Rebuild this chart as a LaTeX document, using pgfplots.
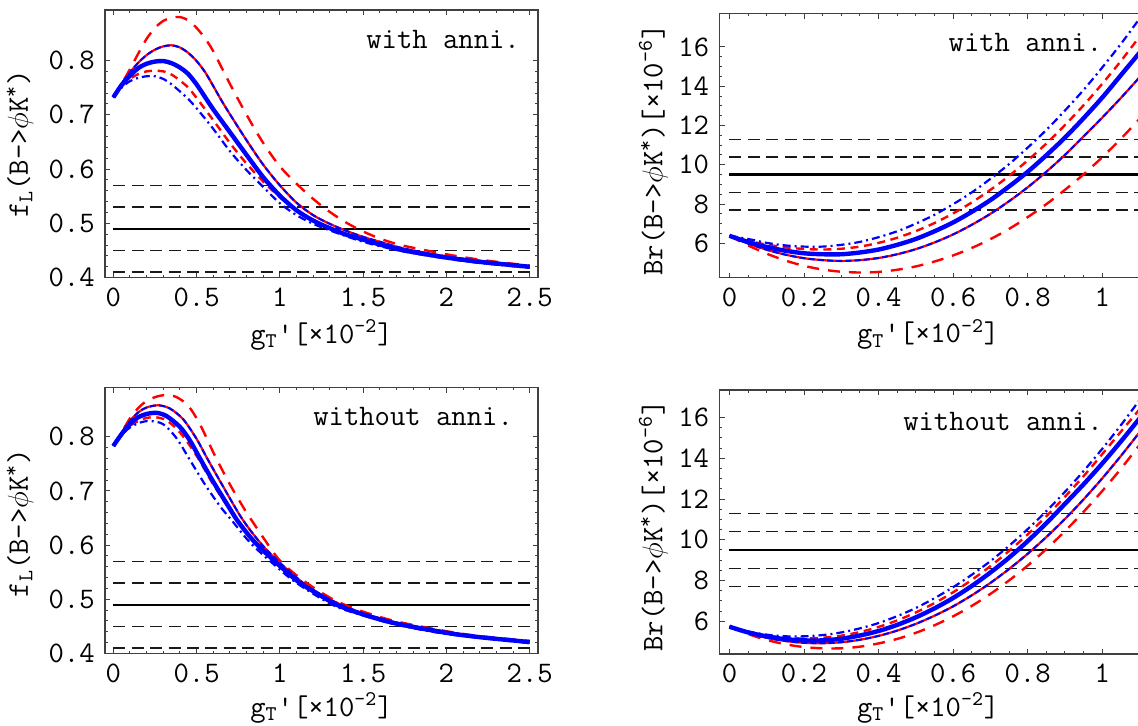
\documentclass[border=0pt]{standalone}
\usepackage{fontspec}
\usepackage{pgfplots}
\usepackage{pgfplotstable}
\pgfplotsset{compat=1.18}

\newcommand\pfont{\fontsize{14.9}{17}\selectfont\ttfamily}

% shared frame style, Mathematica-like
\pgfplotsset{
  panel/.style={
    scale only axis, anchor=north west, no markers,
    axis line style={black!75, line width=0.6pt},
    tick style={black!75, line width=0.5pt},
    major tick length=2.6pt, minor tick length=1.4pt,
    tick align=inside, tick pos=both,
    /pgf/number format/assume math mode=true,
    /pgf/number format/fixed,
    tick label style={font=\pfont},
    label style={font=\pfont},
    xlabel style={at={(axis description cs:0.5,-0.215)}, anchor=center},
  },
  hline/.style={black!90, line width=0.7pt, dash pattern=on 6pt off 3.2pt},
  hmain/.style={black, line width=1.1pt},
  cmain/.style={blue, line width=2.2pt, smooth},
  rsol/.style={red, line width=1.1pt, smooth},
  bdash/.style={blue, line width=1pt, dash pattern=on 3pt off 1.6pt, smooth},
  rlong/.style={red, line width=1.2pt, dash pattern=on 6pt off 4.5pt, smooth},
  rshort/.style={red, line width=1.2pt, dash pattern=on 4pt off 2.8pt, smooth},
  bdd/.style={blue, line width=1.1pt, dash pattern=on 4pt off 2pt on 1pt off 2pt, smooth},
}

\newcommand\xlab{g\textsubscript{T}\textquotesingle[×10\textsuperscript{-2}]}
\newcommand\flab{f\textsubscript{L}(B->$\phi$K\textsuperscript{*})}
\newcommand\brlab{Br(B->$\phi$K\textsuperscript{*})[×10\textsuperscript{-6}]}

% red solid curves (also carry the blue dashed curve on top)
\pgfplotstableread{
x y
0 0.732
0.05 0.757
0.1 0.778
0.15 0.796
0.2 0.810
0.25 0.820
0.3 0.826
0.35 0.828
0.4 0.824
0.45 0.814
0.5 0.799
0.55 0.779
0.6 0.753
0.65 0.726
0.7 0.701
0.8 0.653
0.9 0.608
1.0 0.570
1.1 0.538
1.2 0.515
1.3 0.499
1.4 0.486
1.5 0.475
1.6 0.466
1.7 0.457
1.8 0.450
2.0 0.439
2.2 0.431
2.5 0.421
}\rsolA

\pgfplotstableread{
x y
0 0.783
0.05 0.807
0.1 0.829
0.15 0.845
0.2 0.854
0.27 0.858
0.34 0.852
0.42 0.832
0.5 0.796
0.56 0.762
0.65 0.713
0.77 0.650
0.88 0.605
0.99 0.570
1.14 0.530
1.25 0.508
1.36 0.491
1.5 0.474
1.7 0.457
2.0 0.440
2.2 0.431
2.5 0.422
}\rsolC

% Br panels: x, thick blue, red solid, red long dashed, red short dashed, blue dash-dot
\pgfplotstableread{
x thick rsol rlong rshort bdd
0 6.38 6.38 6.38 6.38 6.38
0.05 6.06 5.99 5.89 6.13 6.22
0.1 5.81 5.67 5.47 5.93 6.02
0.15 5.62 5.42 5.12 5.79 5.89
0.2 5.49 5.24 4.85 5.71 5.83
0.25 5.44 5.14 4.66 5.68 5.83
0.3 5.44 5.10 4.55 5.72 5.92
0.35 5.53 5.14 4.51 5.83 6.07
0.4 5.68 5.25 4.54 6.02 6.31
0.45 5.92 5.44 4.65 6.28 6.61
0.5 6.22 5.70 4.82 6.62 7.00
0.55 6.61 6.04 5.07 7.03 7.45
0.6 7.06 6.45 5.38 7.52 7.99
0.65 7.60 6.94 5.76 8.08 8.59
0.7 8.20 7.50 6.21 8.72 9.28
0.75 8.89 8.14 6.73 9.43 10.03
0.8 9.64 8.85 7.33 10.22 10.87
0.85 10.48 9.64 7.99 11.08 11.77
0.9 11.38 10.50 8.72 12.02 12.76
0.95 12.37 11.44 9.51 13.03 13.81
1.0 13.42 12.40 10.38 14.12 14.95
1.05 14.56 13.40 11.32 15.28 16.15
1.1 15.70 14.45 12.33 16.52 17.44
1.12 16.17 14.88 12.74 17.02 17.98
}\brA

\pgfplotstableread{
x thick rsol rlong rshort bdd
0 5.73 5.73 5.73 5.73 5.73
0.05 5.45 5.43 5.37 5.48 5.50
0.1 5.25 5.19 5.08 5.30 5.34
0.15 5.12 5.03 4.87 5.19 5.26
0.2 5.06 4.94 4.73 5.15 5.26
0.25 5.06 4.92 4.67 5.19 5.32
0.3 5.14 4.97 4.67 5.29 5.45
0.35 5.30 5.09 4.75 5.47 5.65
0.4 5.52 5.28 4.91 5.72 5.91
0.45 5.82 5.54 5.13 6.04 6.25
0.5 6.19 5.87 5.43 6.43 6.65
0.55 6.63 6.27 5.80 6.89 7.13
0.6 7.14 6.73 6.24 7.42 7.67
0.65 7.73 7.27 6.75 8.03 8.28
0.7 8.39 7.88 7.34 8.70 8.95
0.75 9.12 8.56 8.00 9.45 9.70
0.8 9.93 9.31 8.73 10.26 10.52
0.85 10.81 10.13 9.54 11.15 11.40
0.9 11.76 11.02 10.42 12.11 12.35
0.95 12.72 11.98 11.37 13.12 13.37
1.0 13.74 13.01 12.39 14.20 14.46
1.05 14.82 14.11 13.48 15.30 15.62
1.1 15.95 15.27 14.65 16.40 16.85
1.12 16.42 15.76 15.13 16.88 17.36
}\brC

\begin{document}
\pfont
\begin{tikzpicture}
\useasboundingbox (0,0) rectangle (569pt,-362.5pt);

% ---------- top left: f_L with annihilation ----------
\begin{axis}[panel, at={(52.5pt,-5pt)}, width=216.5pt, height=133.8pt,
  xmin=-0.05, xmax=2.55, ymin=0.4, ymax=0.893,
  xtick={0,0.5,1,1.5,2,2.5}, ytick={0.4,0.5,0.6,0.7,0.8},
  minor x tick num=4, minor y tick num=4,
  xlabel={\xlab}, ylabel={\flab},
  ylabel style={at={(axis description cs:-0.196,0.5)}, anchor=center}]
\addplot[hline] coordinates {(0,0.41) (2.5,0.41)};
\addplot[hline] coordinates {(0,0.45) (2.5,0.45)};
\addplot[hmain] coordinates {(0,0.49) (2.5,0.49)};
\addplot[hline] coordinates {(0,0.53) (2.5,0.53)};
\addplot[hline] coordinates {(0,0.57) (2.5,0.57)};
\addplot[rlong] coordinates {(0,0.732) (0.05,0.757) (0.1,0.784) (0.15,0.813) (0.2,0.840) (0.25,0.860) (0.3,0.873) (0.35,0.879) (0.4,0.880) (0.45,0.874) (0.5,0.860) (0.55,0.841) (0.6,0.817) (0.7,0.757) (0.8,0.700) (0.9,0.648) (1.0,0.605) (1.1,0.573) (1.2,0.545) (1.3,0.521) (1.4,0.501) (1.5,0.485) (1.6,0.472) (1.7,0.462) (1.8,0.455) (2.0,0.443) (2.2,0.433) (2.5,0.422)};
\addplot[rshort] coordinates {(0,0.732) (0.05,0.752) (0.1,0.766) (0.15,0.775) (0.2,0.780) (0.25,0.781) (0.3,0.780) (0.35,0.774) (0.4,0.763) (0.45,0.750) (0.5,0.731) (0.6,0.690) (0.7,0.648) (0.8,0.610) (0.9,0.577) (1.0,0.548) (1.1,0.524) (1.2,0.506) (1.3,0.491) (1.4,0.479) (1.5,0.469) (1.6,0.460) (1.7,0.453) (1.8,0.446) (2.0,0.436) (2.2,0.428) (2.5,0.419)};
\addplot[rsol] table[x=x, y=y] {\rsolA};
\addplot[bdd] coordinates {(0,0.732) (0.05,0.750) (0.1,0.762) (0.15,0.768) (0.2,0.771) (0.25,0.771) (0.3,0.766) (0.35,0.756) (0.4,0.743) (0.45,0.729) (0.5,0.712) (0.6,0.674) (0.7,0.633) (0.8,0.598) (0.9,0.567) (1.0,0.537) (1.1,0.515) (1.2,0.499) (1.3,0.487) (1.4,0.476) (1.5,0.466) (1.6,0.458) (1.7,0.451) (1.8,0.445) (2.0,0.435) (2.2,0.427) (2.5,0.418)};
\addplot[cmain] coordinates {(0,0.732) (0.05,0.755) (0.1,0.772) (0.15,0.786) (0.2,0.794) (0.25,0.798) (0.3,0.799) (0.35,0.795) (0.4,0.787) (0.45,0.775) (0.5,0.756) (0.55,0.733) (0.6,0.710) (0.7,0.668) (0.8,0.626) (0.9,0.585) (1.0,0.551) (1.1,0.524) (1.2,0.505) (1.3,0.491) (1.4,0.479) (1.5,0.470) (1.6,0.461) (1.7,0.453) (1.8,0.447) (2.0,0.437) (2.2,0.429) (2.5,0.420)};
\addplot[bdash] table[x=x, y=y] {\rsolA};
\node at (axis cs:1.98,0.838) {with anni.};
\end{axis}

% ---------- top right: Br with annihilation ----------
\begin{axis}[panel, at={(359.7pt,-6.8pt)}, width=213pt, height=132.1pt,
  xmin=-0.027, xmax=1.116, ymin=4.24, ymax=17.7,
  xtick={0,0.2,0.4,0.6,0.8,1}, ytick={6,8,10,12,14,16},
  minor x tick num=3, minor y tick num=3,
  xlabel={\xlab}, ylabel={\brlab},
  xlabel style={at={(axis description cs:0.49,-0.215)}},
  ylabel style={at={(axis description cs:-0.155,0.484)}, anchor=center}]
\addplot[hline] coordinates {(0,7.7) (1.2,7.7)};
\addplot[hline] coordinates {(0,8.6) (1.2,8.6)};
\addplot[hmain] coordinates {(0,9.5) (1.2,9.5)};
\addplot[hline] coordinates {(0,10.4) (1.2,10.4)};
\addplot[hline] coordinates {(0,11.3) (1.2,11.3)};
\addplot[rlong] table[x=x, y=rlong] {\brA};
\addplot[rshort] table[x=x, y=rshort] {\brA};
\addplot[rsol] table[x=x, y=rsol] {\brA};
\addplot[bdd] table[x=x, y=bdd] {\brA};
\addplot[cmain] table[x=x, y=thick] {\brA};
\addplot[bdash] table[x=x, y=rsol] {\brA};
\node at (axis cs:0.794,16.25) {with anni.};
\end{axis}

% ---------- bottom left: f_L without annihilation ----------
\begin{axis}[panel, at={(52.5pt,-193.7pt)}, width=216.5pt, height=133pt,
  xmin=-0.05, xmax=2.55, ymin=0.4, ymax=0.891,
  xtick={0,0.5,1,1.5,2,2.5}, ytick={0.4,0.5,0.6,0.7,0.8},
  minor x tick num=4, minor y tick num=4,
  xlabel={\xlab}, ylabel={\flab},
  xlabel style={at={(axis description cs:0.5,-0.205)}},
  ylabel style={at={(axis description cs:-0.196,0.49)}, anchor=center}]
\addplot[hline] coordinates {(0,0.41) (2.5,0.41)};
\addplot[hline] coordinates {(0,0.45) (2.5,0.45)};
\addplot[hmain] coordinates {(0,0.49) (2.5,0.49)};
\addplot[hline] coordinates {(0,0.53) (2.5,0.53)};
\addplot[hline] coordinates {(0,0.57) (2.5,0.57)};
\addplot[rlong] coordinates {(0,0.783) (0.05,0.808) (0.1,0.834) (0.15,0.853) (0.2,0.866) (0.26,0.874) (0.32,0.877) (0.38,0.873) (0.45,0.857) (0.52,0.823) (0.61,0.765) (0.7,0.712) (0.79,0.665) (0.88,0.623) (0.99,0.575) (1.1,0.544) (1.2,0.522) (1.3,0.503) (1.38,0.491) (1.5,0.477) (1.7,0.459) (2.0,0.441) (2.2,0.432) (2.5,0.423)};
\addplot[rshort] coordinates {(0,0.783) (0.05,0.803) (0.1,0.820) (0.18,0.833) (0.25,0.836) (0.32,0.830) (0.4,0.808) (0.5,0.765) (0.6,0.712) (0.7,0.665) (0.8,0.622) (0.9,0.590) (0.97,0.568) (1.12,0.529) (1.34,0.490) (1.6,0.462) (2.0,0.438) (2.5,0.420)};
\addplot[rsol] table[x=x, y=y] {\rsolC};
\addplot[bdd] coordinates {(0,0.783) (0.05,0.803) (0.1,0.817) (0.16,0.826) (0.22,0.829) (0.3,0.823) (0.38,0.797) (0.46,0.757) (0.55,0.712) (0.64,0.672) (0.71,0.646) (0.82,0.605) (0.95,0.568) (1.1,0.530) (1.32,0.489) (1.5,0.470) (1.7,0.453) (2.0,0.436) (2.5,0.419)};
\addplot[cmain] coordinates {(0,0.783) (0.05,0.805) (0.1,0.824) (0.15,0.836) (0.2,0.842) (0.26,0.844) (0.32,0.838) (0.4,0.818) (0.46,0.793) (0.52,0.760) (0.6,0.717) (0.68,0.677) (0.75,0.643) (0.85,0.605) (0.97,0.570) (1.05,0.548) (1.12,0.530) (1.2,0.515) (1.34,0.490) (1.5,0.472) (1.7,0.455) (2.0,0.438) (2.2,0.430) (2.5,0.421)};
\addplot[bdash] table[x=x, y=y] {\rsolC};
\node at (axis cs:1.80,0.838) {without anni.};
\end{axis}

% ---------- bottom right: Br without annihilation ----------
\begin{axis}[panel, at={(359.7pt,-195pt)}, width=213pt, height=132pt,
  xmin=-0.027, xmax=1.116, ymin=4.39, ymax=17.35,
  xtick={0,0.2,0.4,0.6,0.8,1}, ytick={6,8,10,12,14,16},
  minor x tick num=3, minor y tick num=3,
  xlabel={\xlab}, ylabel={\brlab},
  xlabel style={at={(axis description cs:0.49,-0.205)}},
  ylabel style={at={(axis description cs:-0.155,0.485)}, anchor=center}]
\addplot[hline] coordinates {(0,7.7) (1.2,7.7)};
\addplot[hline] coordinates {(0,8.6) (1.2,8.6)};
\addplot[hmain] coordinates {(0,9.5) (1.2,9.5)};
\addplot[hline] coordinates {(0,10.4) (1.2,10.4)};
\addplot[hline] coordinates {(0,11.3) (1.2,11.3)};
\addplot[rlong] table[x=x, y=rlong] {\brC};
\addplot[rshort] table[x=x, y=rshort] {\brC};
\addplot[rsol] table[x=x, y=rsol] {\brC};
\addplot[bdd] table[x=x, y=bdd] {\brC};
\addplot[cmain] table[x=x, y=thick] {\brC};
\addplot[bdash] table[x=x, y=rsol] {\brC};
\node at (axis cs:0.734,15.8) {without anni.};
\end{axis}
\end{tikzpicture}
\end{document}
